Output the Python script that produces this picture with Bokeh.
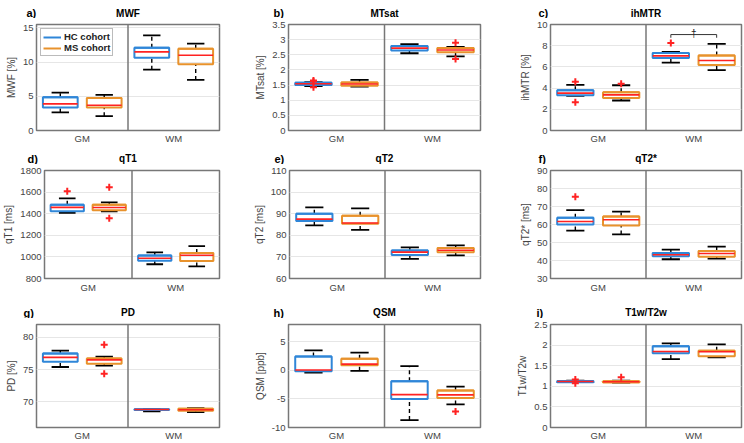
from bokeh.plotting import figure
from bokeh.models import FixedTicker, Legend, LegendItem, Span, CustomJSTickFormatter
from bokeh.layouts import column, row
from bokeh.embed import file_html
from bokeh.resources import INLINE
from bokeh.core.properties import value

regions = ["GM", "WM"]
cohorts = ["HC cohort", "MS cohort"]

# per region (GM, WM): [lower whisker, Q1, median, Q3, upper whisker]
mwf_hc = [[2.65, 3.35, 3.9, 4.85, 5.55], [8.9, 10.65, 11.5, 12.1, 13.9]]
mwf_ms = [[2.1, 3.35, 3.7, 4.75, 5.2], [7.4, 9.7, 11.0, 11.95, 12.7]]
mwf_hc_out = [[], []]
mwf_ms_out = [[], []]

mtsat_hc = [[1.47, 1.5, 1.545, 1.575, 1.6], [2.55, 2.64, 2.72, 2.79, 2.85]]
mtsat_ms = [[1.45, 1.48, 1.535, 1.585, 1.67], [2.45, 2.58, 2.66, 2.72, 2.76]]
mtsat_hc_out = [[1.65, 1.62, 1.43], []]
mtsat_ms_out = [[], [2.9, 2.36]]

ihmtr_hc = [[3.27, 3.33, 3.53, 3.8, 4.3], [6.4, 6.84, 7.04, 7.3, 7.42]]
ihmtr_ms = [[2.83, 3.07, 3.36, 3.6, 4.27], [5.7, 6.19, 6.6, 7.07, 8.18]]
ihmtr_hc_out = [[4.6, 2.66], [8.25]]
ihmtr_ms_out = [[4.42], []]

qt1_hc = [[1408, 1423, 1459, 1482, 1541], [932, 965, 988, 1012, 1041]]
qt1_ms = [[1421, 1432, 1458, 1482, 1505], [912, 962, 1015, 1035, 1100]]
qt1_hc_out = [[1609], []]
qt1_ms_out = [[1644, 1359], []]

qt2_hc = [[84.6, 86.6, 87.5, 90.0, 92.9], [69.1, 70.9, 72.2, 73.0, 74.4]]
qt2_ms = [[82.5, 85.4, 85.7, 89.1, 92.5], [70.7, 72.1, 73.1, 74.1, 75.3]]
qt2_hc_out = [[], []]
qt2_ms_out = [[], []]

qt2s_hc = [[56.6, 60.0, 61.7, 63.8, 68.0], [40.7, 42.3, 43.2, 44.2, 46.0]]
qt2s_ms = [[54.5, 59.5, 62.6, 64.4, 67.2], [41.0, 42.1, 43.9, 45.3, 47.7]]
qt2s_hc_out = [[75.4], []]
qt2s_ms_out = [[], []]

pd_hc = [[75.4, 76.2, 76.9, 77.5, 77.95], [68.5, 68.7, 68.8, 68.85, 68.9]]
pd_ms = [[75.6, 75.9, 76.5, 76.7, 77.0], [68.4, 68.6, 68.75, 68.9, 69.0]]
pd_hc_out = [[], []]
pd_ms_out = [[78.85, 74.35], []]

qsm_hc = [[-0.4, -0.17, 0.05, 2.4, 3.47], [-8.7, -5.0, -4.26, -1.93, 0.74]]
qsm_ms = [[-0.1, 0.9, 1.08, 2.0, 3.07], [-5.96, -4.85, -4.3, -3.55, -2.84]]
qsm_hc_out = [[], []]
qsm_ms_out = [[], [-7.2]]

t1t2_hc = [[1.10, 1.10, 1.115, 1.13, 1.135], [1.66, 1.805, 1.845, 1.97, 2.04]]
t1t2_ms = [[1.09, 1.095, 1.11, 1.125, 1.14], [1.70, 1.73, 1.84, 1.86, 2.02]]
t1t2_hc_out = [[1.165, 1.075], []]
t1t2_ms_out = [[1.22], []]

sig_label = "\u2020"

FONT = "Liberation Sans"
BLUE = "#2F86D8"
ORANGE = "#E8922C"
RED = "#FF2222"
FRAME = "#777777"
TXT = "#444444"

panels = [
    dict(letter="a)", title="MWF", ylabel="MWF [%]", yr=(0, 15.5), ticks=[0, 5, 10, 15],
         hc=mwf_hc, ms=mwf_ms, hco=mwf_hc_out, mso=mwf_ms_out),
    dict(letter="b)", title="MTsat", ylabel="MTsat [%]", yr=(0, 3.5), ticks=[0, 0.5, 1, 1.5, 2, 2.5, 3, 3.5],
         hc=mtsat_hc, ms=mtsat_ms, hco=mtsat_hc_out, mso=mtsat_ms_out),
    dict(letter="c)", title="ihMTR", ylabel="ihMTR [%]", yr=(0, 10), ticks=[0, 2, 4, 6, 8, 10],
         hc=ihmtr_hc, ms=ihmtr_ms, hco=ihmtr_hc_out, mso=ihmtr_ms_out),
    dict(letter="d)", title="qT1", ylabel="qT1 [ms]", yr=(800, 1800), ticks=[800, 1000, 1200, 1400, 1600, 1800],
         hc=qt1_hc, ms=qt1_ms, hco=qt1_hc_out, mso=qt1_ms_out),
    dict(letter="e)", title="qT2", ylabel="qT2 [ms]", yr=(60, 110), ticks=[60, 70, 80, 90, 100, 110],
         hc=qt2_hc, ms=qt2_ms, hco=qt2_hc_out, mso=qt2_ms_out),
    dict(letter="f)", title="qT2*", ylabel="qT2* [ms]", yr=(30, 90), ticks=[30, 40, 50, 60, 70, 80, 90],
         hc=qt2s_hc, ms=qt2s_ms, hco=qt2s_hc_out, mso=qt2s_ms_out),
    dict(letter="g)", title="PD", ylabel="PD [%]", yr=(66, 82), ticks=[70, 75, 80],
         hc=pd_hc, ms=pd_ms, hco=pd_hc_out, mso=pd_ms_out),
    dict(letter="h)", title="QSM", ylabel="QSM [ppb]", yr=(-10, 8), ticks=[-10, -5, 0, 5],
         hc=qsm_hc, ms=qsm_ms, hco=qsm_hc_out, mso=qsm_ms_out),
    dict(letter="i)", title="T1w/T2w", ylabel="T1w/T2w", yr=(0, 2.5), ticks=[0, 0.5, 1, 1.5, 2, 2.5],
         hc=t1t2_hc, ms=t1t2_ms, hco=t1t2_hc_out, mso=t1t2_ms_out),
]

# ---- layout (pixels) ----
cols = [dict(x=0, w=250, l=36, r=31), dict(x=250, w=250, l=38, r=20), dict(x=500, w=244, l=50, r=3)]
# header strip height, panel height, per-column top border, bottom border, x-label standoff
rows = [dict(hh=18, h=128, t=[4, 6, 6], b=14, so=2),
        dict(hh=18, h=131, t=[6, 6, 6], b=17, so=3),
        dict(hh=23, h=125, t=[6, 6, 6], b=15, so=2)]
# text placement inside header strips (x: from frame left; y: baseline from strip top)
letter_pos = [(-10, 12), (-15, 12), (-12, 12), (-9, 12), (-14, 12), (-12, 12),
              (-13, 17), (-15, 17), (-14, 17)]
title_base = [13, 13, 13, 12, 12, 12, 17, 17, 17]

OFF = 0.24
BOXW = 0.38


def make_panel(k, spec):
    c = cols[k % 3]
    r = rows[k // 3]
    p = figure(width=c["w"], height=r["h"], x_range=(0.5, 2.5), y_range=spec["yr"],
               output_backend="svg", toolbar_location=None,
               min_border_left=c["l"], min_border_right=c["r"],
               min_border_top=r["t"][k % 3], min_border_bottom=r["b"],
               background_fill_color="white", border_fill_color="white")
    p.outline_line_color = FRAME
    p.outline_line_width = 1.5
    p.xgrid.visible = False
    p.ygrid.grid_line_color = "#e6e6e6"
    p.ygrid.grid_line_width = 1

    p.xaxis.ticker = FixedTicker(ticks=[1, 2])
    p.xaxis.major_label_overrides = {1: regions[0], 2: regions[1]}
    p.yaxis.ticker = FixedTicker(ticks=spec["ticks"])
    p.yaxis.formatter = CustomJSTickFormatter(code="return String(Math.round(tick*1000)/1000)")
    for ax in (p.xaxis[0], p.yaxis[0]):
        ax.axis_line_color = None
        ax.major_tick_line_color = None
        ax.minor_tick_line_color = None
        ax.major_tick_out = 0
        ax.major_tick_in = 0
        ax.minor_tick_out = 0
        ax.minor_tick_in = 0
        ax.major_label_text_font = FONT
        ax.major_label_text_font_size = "9.5px"
        ax.major_label_text_color = TXT
        ax.major_label_standoff = 3
    p.xaxis.major_label_standoff = r["so"]
    p.yaxis.axis_label = spec["ylabel"]
    p.yaxis.axis_label_text_font = FONT
    p.yaxis.axis_label_text_font_size = "10px"
    p.yaxis.axis_label_text_font_style = "normal"
    p.yaxis.axis_label_text_color = TXT
    p.yaxis.axis_label_standoff = 3

    p.add_layout(Span(location=1.5, dimension="height", line_color=FRAME, line_width=1.5))

    legend_rends = []
    for stats, outs, col, sgn in [(spec["hc"], spec["hco"], BLUE, -1), (spec["ms"], spec["mso"], ORANGE, 1)]:
        xs = [g + 1 + sgn * OFF for g in range(len(regions))]
        lo = [s[0] for s in stats]
        q1 = [s[1] for s in stats]
        med = [s[2] for s in stats]
        q3 = [s[3] for s in stats]
        hi = [s[4] for s in stats]
        p.segment(x0=xs, x1=xs, y0=q3, y1=hi, line_color="black", line_width=1.4, line_dash="4 3")
        p.segment(x0=xs, x1=xs, y0=lo, y1=q1, line_color="black", line_width=1.4, line_dash="4 3")
        cl = [x - BOXW / 4 for x in xs]
        cr = [x + BOXW / 4 for x in xs]
        p.segment(x0=cl, x1=cr, y0=hi, y1=hi, line_color="black", line_width=1.8)
        p.segment(x0=cl, x1=cr, y0=lo, y1=lo, line_color="black", line_width=1.8)
        bl = [x - BOXW / 2 for x in xs]
        br = [x + BOXW / 2 for x in xs]
        p.quad(left=bl, right=br, bottom=q1, top=q3, fill_alpha=0, line_color=col, line_width=2)
        # box top edges again as segments (used as legend line glyphs)
        edge = p.segment(x0=bl, x1=br, y0=q3, y1=q3, line_color=col, line_width=2)
        legend_rends.append(edge)
        p.segment(x0=bl, x1=br, y0=med, y1=med, line_color=RED, line_width=1.6)
        ox, oy = [], []
        for g, vals in enumerate(outs):
            for v in vals:
                ox.append(xs[g])
                oy.append(v)
        if ox:
            p.scatter(x=ox, y=oy, marker="cross", size=7, line_color=RED, line_width=2)
    return p, legend_rends


def make_header(ri):
    r = rows[ri]
    h = figure(width=744, height=r["hh"], x_range=(0, 744), y_range=(r["hh"], 0),
               output_backend="svg", toolbar_location=None, min_border=0,
               x_axis_type=None, y_axis_type=None, outline_line_color=None,
               background_fill_color="white", border_fill_color="white")
    h.xgrid.visible = False
    h.ygrid.visible = False
    lx, ly, lt, tx, ty, tt = [], [], [], [], [], []
    for ci in range(3):
        k = ri * 3 + ci
        c = cols[ci]
        fl = c["x"] + c["l"]
        fw = c["w"] - c["l"] - c["r"]
        lx.append(fl + letter_pos[k][0])
        ly.append(letter_pos[k][1])
        lt.append(panels[k]["letter"])
        tx.append(fl + fw / 2)
        ty.append(title_base[k])
        tt.append(panels[k]["title"])
    h.text(x=lx, y=ly, text=lt, text_font=value(FONT), text_font_size="11px",
           text_font_style="bold", text_color="black", text_align="left", text_baseline="alphabetic")
    h.text(x=tx, y=ty, text=tt, text_font=value(FONT), text_font_size="10px",
           text_font_style="bold", text_color="black", text_align="center", text_baseline="alphabetic")
    return h


figs = []
for k, spec in enumerate(panels):
    p, rends = make_panel(k, spec)
    if k == 0:
        leg = Legend(items=[LegendItem(label=cohorts[0], renderers=[rends[0]]),
                            LegendItem(label=cohorts[1], renderers=[rends[1]])],
                     location="top_left", margin=4, padding=2, spacing=0,
                     glyph_width=18, glyph_height=10, label_height=10, label_standoff=3,
                     label_text_font=FONT, label_text_font_size="9.5px", label_text_font_style="bold",
                     label_text_color="#222222", border_line_color=FRAME, border_line_width=1,
                     background_fill_color="white", background_fill_alpha=1)
        p.add_layout(leg)
    if k == 2:
        x0 = 2 - OFF
        x1 = 2 + OFF
        ytop = 9.05
        ydrop = 8.75
        p.line(x=[x0, x0, x1, x1], y=[ydrop, ytop, ytop, ydrop], line_color="#333333", line_width=1)
        p.text(x=[2.0], y=[ytop + 0.12], text=[sig_label], text_font=value(FONT), text_font_size="10px",
               text_color="#222222", text_align="center", text_baseline="alphabetic")
    figs.append(p)

layout = column(make_header(0), row(*figs[0:3], spacing=0),
                make_header(1), row(*figs[3:6], spacing=0),
                make_header(2), row(*figs[6:9], spacing=0), spacing=0)

open("out.html", "w").write(file_html(layout, INLINE))
